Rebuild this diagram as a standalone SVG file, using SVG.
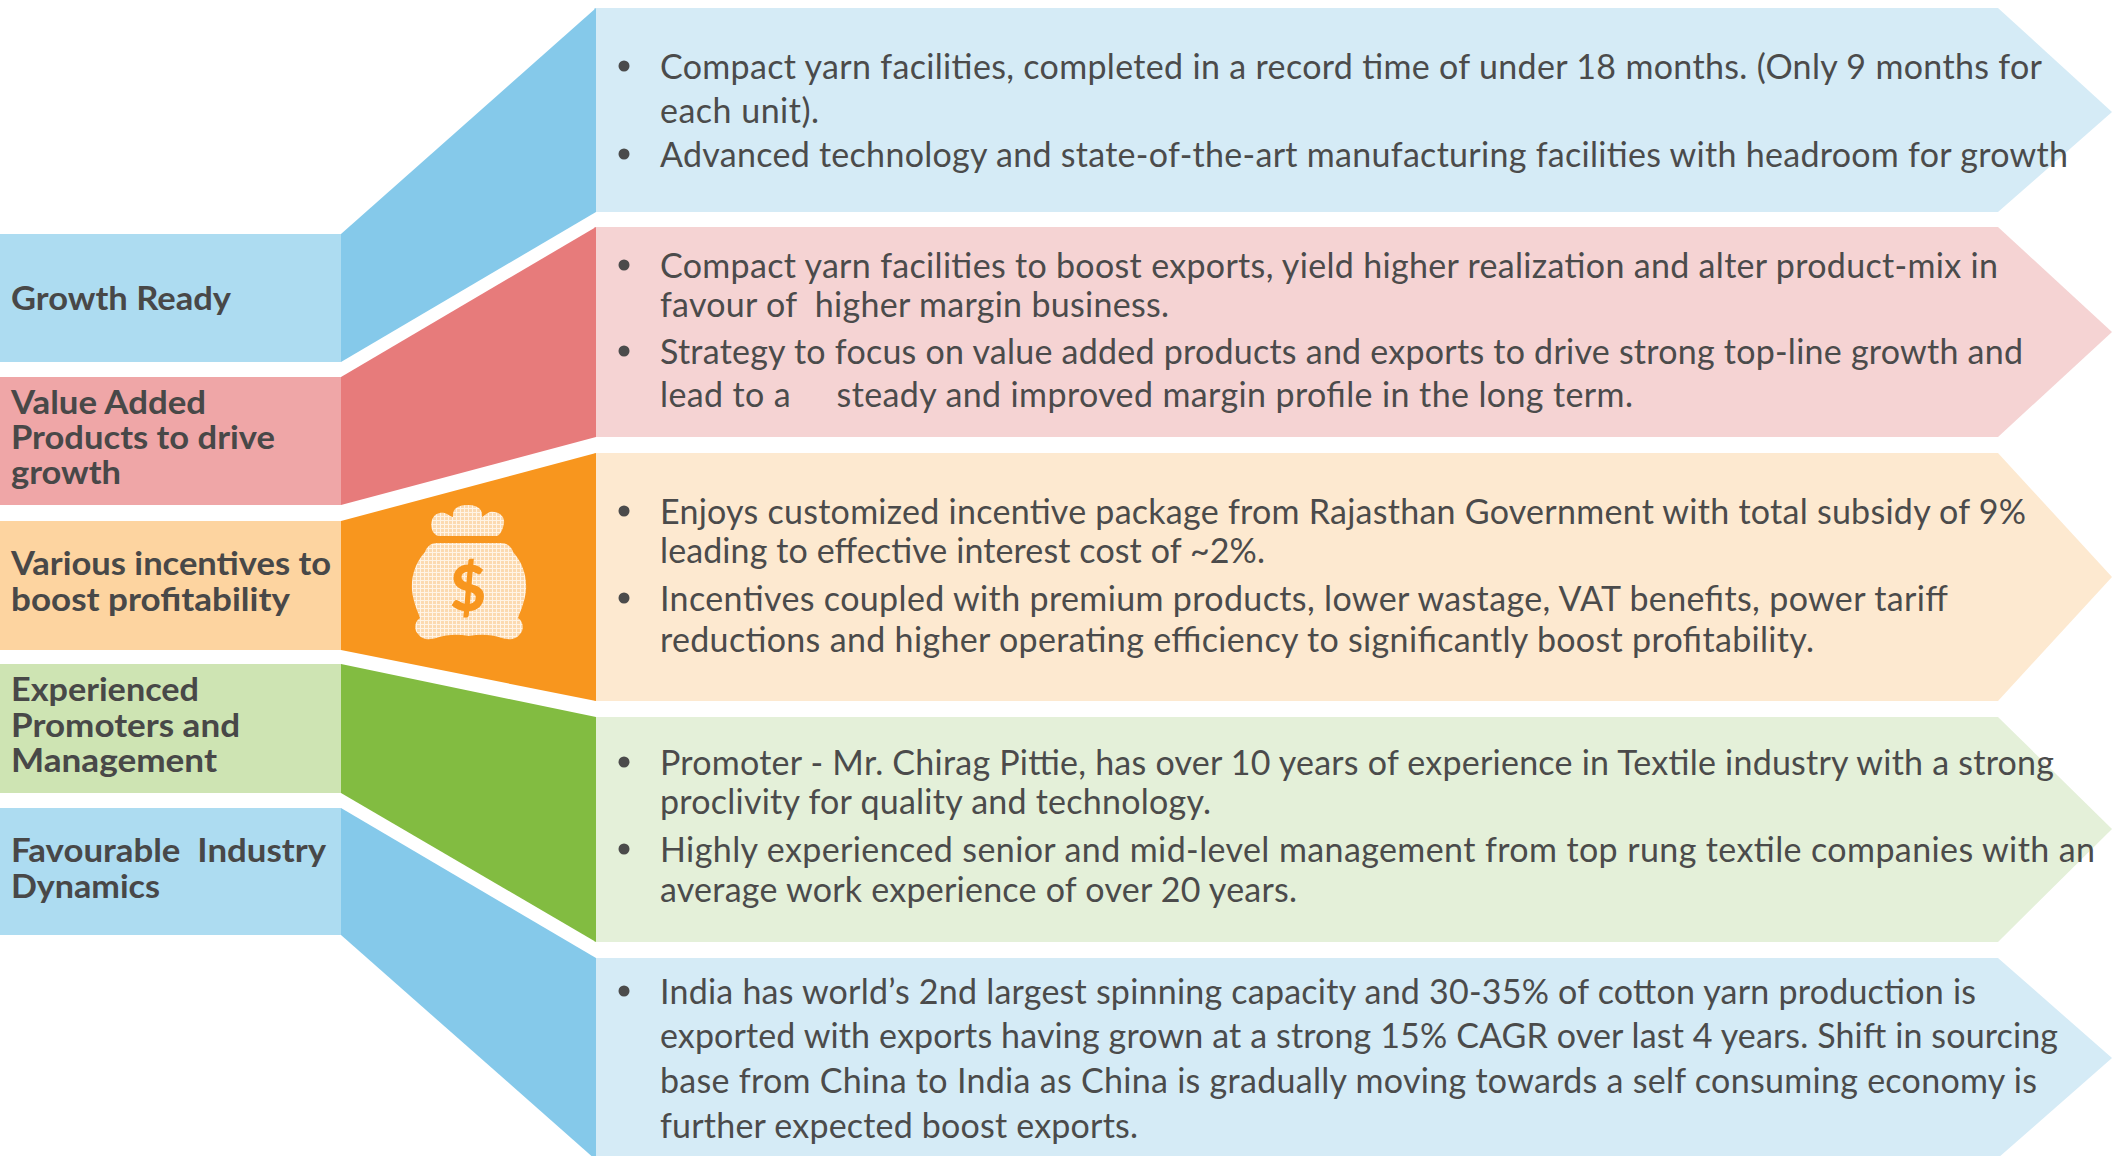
<svg xmlns="http://www.w3.org/2000/svg" width="2112" height="1156" viewBox="0 0 2112 1156">
<style>
.lbl{font-family:Lato,"Liberation Sans",sans-serif;font-weight:700;font-size:32px;fill:#484848;white-space:pre}
.txt{font-family:Lato,"Liberation Sans",sans-serif;font-size:34px;fill:#4b4b4b;white-space:pre}
.dot{fill:#4b4b4b}
</style>
<defs>
<pattern id="hatch" width="4" height="4" patternUnits="userSpaceOnUse">
<rect width="4" height="4" fill="#FCDAB0"/>
<path d="M0 0.5H4M0.5 0V4" stroke="#FFF4E6" stroke-width="1"/>
</pattern>
</defs>
<rect width="2112" height="1156" fill="#ffffff"/>

<!-- right boxes -->
<g id="box-growth">
<path d="M594 8H1998L2112 112L1998 212H594Z" fill="#D5EBF6"/>
</g>
<g id="box-value">
<path d="M594 227H1998L2112 332L1998 437H594Z" fill="#F5D3D3"/>
</g>
<g id="box-incentives">
<path d="M594 453H1998L2112 577L1998 701H594Z" fill="#FDE9D0"/>
</g>
<g id="box-promoters">
<path d="M594 717H1998L2112 829L1998 942H594Z" fill="#E4F0D9"/>
</g>
<g id="box-industry">
<path d="M594 958H1998L2112 1058L1998 1158H594Z" fill="#D5EBF6"/>
</g>

<!-- connectors -->
<g id="connectors">
<path d="M341 234L596 8V212L341 362Z" fill="#85C9EA"/>
<path d="M341 377L596 227V437L341 505Z" fill="#E77B7B"/>
<path d="M341 521L596 453V701L341 650Z" fill="#F8961E"/>
<path d="M341 664L596 717V942L341 793Z" fill="#82BC41"/>
<path d="M341 808L596 958V1160L341 935Z" fill="#85C9EA"/>
</g>

<!-- left labels -->
<g id="label-growth">
<rect x="0" y="234" width="341" height="128" fill="#ADDCF1"/>
<text class="lbl" x="11" y="310" textLength="220" lengthAdjust="spacingAndGlyphs">Growth Ready</text>
</g>
<g id="label-value">
<rect x="0" y="377" width="341" height="128" fill="#EFA6A7"/>
<text class="lbl" x="11" y="414" textLength="195" lengthAdjust="spacingAndGlyphs">Value Added</text>
<text class="lbl" x="11" y="449" textLength="264" lengthAdjust="spacingAndGlyphs">Products to drive</text>
<text class="lbl" x="11" y="484" textLength="110" lengthAdjust="spacingAndGlyphs">growth</text>
</g>
<g id="label-incentives">
<rect x="0" y="521" width="341" height="129" fill="#FDD4A0"/>
<text class="lbl" x="11" y="575" textLength="320" lengthAdjust="spacingAndGlyphs">Various incentives to</text>
<text class="lbl" x="11" y="611" textLength="279" lengthAdjust="spacingAndGlyphs">boost profitability</text>
</g>
<g id="label-promoters">
<rect x="0" y="664" width="341" height="129" fill="#CEE4B3"/>
<text class="lbl" x="11" y="701" textLength="188" lengthAdjust="spacingAndGlyphs">Experienced</text>
<text class="lbl" x="11" y="737" textLength="229" lengthAdjust="spacingAndGlyphs">Promoters and</text>
<text class="lbl" x="11" y="772" textLength="206" lengthAdjust="spacingAndGlyphs">Management</text>
</g>
<g id="label-industry">
<rect x="0" y="808" width="341" height="127" fill="#ADDCF1"/>
<text class="lbl" x="11" y="862" textLength="315" lengthAdjust="spacingAndGlyphs" xml:space="preserve">Favourable  Industry</text>
<text class="lbl" x="11" y="898" textLength="149" lengthAdjust="spacingAndGlyphs">Dynamics</text>
</g>

<!-- money bag icon -->
<g id="money-bag">
<path d="M438 536C432 534 430 526 432 520C434 513 442 511 447 514C450 516 452 517 453 517C452 508 459 505 468 505C477 505 483 509 482 517C484 516 487 513 490 512C498 511 505 516 504 523C503 530 500 535 497 536Z" fill="url(#hatch)"/>
<path d="M437 543L501 543C508 543 512 548 513 552C522 562 527 575 526 590C525 602 520 612 518 618C524 622 524 630 520 634C516 640 508 640 502 638C490 634 480 634 469 636C458 634 448 634 436 638C430 640 422 640 418 634C414 630 414 622 420 618C418 612 413 602 412 590C411 575 416 562 425 552C426 548 430 543 437 543Z" fill="url(#hatch)"/>
<text x="468" y="611" text-anchor="middle" font-family="Lato,'Liberation Sans',sans-serif" font-weight="900" font-size="62" fill="#F8961E">$</text>
</g>

<!-- texts -->
<g id="text-growth">
<circle class="dot" cx="624" cy="66" r="5.5"/>
<text class="txt" x="660" y="79" textLength="1382">Compact yarn facilities, completed in a record time of under 18 months. (Only 9 months for</text>
<text class="txt" x="660" y="123" textLength="159">each unit).</text>
<circle class="dot" cx="624" cy="154" r="5.5"/>
<text class="txt" x="660" y="167" textLength="1408">Advanced technology and state-of-the-art manufacturing facilities with headroom for growth</text>
</g>
<g id="text-value">
<circle class="dot" cx="624" cy="265" r="5.5"/>
<text class="txt" x="660" y="278" textLength="1338">Compact yarn facilities to boost exports, yield higher realization and alter product-mix in</text>
<text class="txt" x="660" y="317" textLength="509" xml:space="preserve">favour of  higher margin business.</text>
<circle class="dot" cx="624" cy="351" r="5.5"/>
<text class="txt" x="660" y="364" textLength="1363">Strategy to focus on value added products and exports to drive strong top-line growth and</text>
<text class="txt" x="660" y="407" textLength="973" xml:space="preserve">lead to a     steady and improved margin profile in the long term.</text>
</g>
<g id="text-incentives">
<circle class="dot" cx="624" cy="511" r="5.5"/>
<text class="txt" x="660" y="524" textLength="1366">Enjoys customized incentive package from Rajasthan Government with total subsidy of 9%</text>
<text class="txt" x="660" y="563" textLength="605">leading to effective interest cost of ~2%.</text>
<circle class="dot" cx="624" cy="598" r="5.5"/>
<text class="txt" x="660" y="611" textLength="1288">Incentives coupled with premium products, lower wastage, VAT benefits, power tariff</text>
<text class="txt" x="660" y="652" textLength="1154">reductions and higher operating efficiency to significantly boost profitability.</text>
</g>
<g id="text-promoters">
<circle class="dot" cx="624" cy="762" r="5.5"/>
<text class="txt" x="660" y="775" textLength="1394">Promoter - Mr. Chirag Pittie, has over 10 years of experience in Textile industry with a strong</text>
<text class="txt" x="660" y="814" textLength="551">proclivity for quality and technology.</text>
<circle class="dot" cx="624" cy="849" r="5.5"/>
<text class="txt" x="660" y="862" textLength="1435">Highly experienced senior and mid-level management from top rung textile companies with an</text>
<text class="txt" x="660" y="902" textLength="637">average work experience of over 20 years.</text>
</g>
<g id="text-industry">
<circle class="dot" cx="624" cy="991" r="5.5"/>
<text class="txt" x="660" y="1004" textLength="1316">India has world’s 2nd largest spinning capacity and 30-35% of cotton yarn production is</text>
<text class="txt" x="660" y="1048" textLength="1398">exported with exports having grown at a strong 15% CAGR over last 4 years. Shift in sourcing</text>
<text class="txt" x="660" y="1093" textLength="1377">base from China to India as China is gradually moving towards a self consuming economy is</text>
<text class="txt" x="660" y="1138" textLength="478">further expected boost exports.</text>
</g>
</svg>
